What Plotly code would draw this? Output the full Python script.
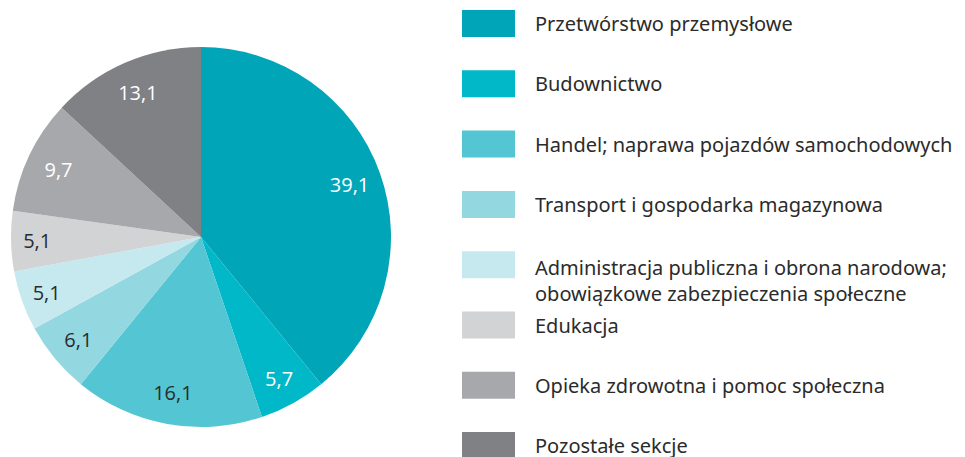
import plotly.graph_objects as go

# sections of the economy and their shares (%)
categories = [
    "Przetwórstwo przemysłowe",
    "Budownictwo",
    "Handel; naprawa pojazdów samochodowych",
    "Transport i gospodarka magazynowa",
    "Administracja publiczna i obrona narodowa;<br>obowiązkowe zabezpieczenia społeczne",
    "Edukacja",
    "Opieka zdrowotna i pomoc społeczna",
    "Pozostałe sekcje",
]
shares = [39.1, 5.7, 16.1, 6.1, 5.1, 5.1, 9.7, 13.1]
colors = ["#00a6b8", "#00b8c8", "#54c5d2", "#93d7e0", "#c6e8ef",
          "#d2d3d5", "#a7a8ab", "#808185"]
label_colors = ["white", "white", "#2b2b2b", "#2b2b2b", "#2b2b2b",
                "#2b2b2b", "white", "white"]

W, H = 965, 457
OFF = 8  # page body margin
FONT = "Noto Sans"

pie_dom = dict(x=[(11 - OFF) / W, (391 - OFF) / W],
               y=[(457 - 427 + OFF) / H, (457 - 47 + OFF) / H])

fig = go.Figure()
# coloured slices
fig.add_trace(go.Pie(
    values=shares,
    labels=categories,
    textinfo="none",
    marker=dict(colors=colors, line=dict(width=0)),
    sort=False,
    direction="clockwise",
    rotation=0,
    hoverinfo="label+percent",
    showlegend=False,
    domain=pie_dom,
))
# transparent ring on top, only to place the value labels near the rim
fig.add_trace(go.Pie(
    values=shares,
    labels=categories,
    text=[f"{v:.1f}".replace(".", ",") for v in shares],
    textinfo="text",
    textposition="inside",
    insidetextorientation="horizontal",
    insidetextfont=dict(family="Open Sans", size=20, color=label_colors),
    marker=dict(colors=["rgba(0,0,0,0)"] * len(shares), line=dict(width=0)),
    hole=0.66,
    sort=False,
    direction="clockwise",
    rotation=0,
    hoverinfo="skip",
    showlegend=False,
    domain=pie_dom,
))

# hand-made legend: wide colour boxes with labels to the right
row_top = 10 - OFF
row_step = 60.3
for i, (name, col) in enumerate(zip(categories, colors)):
    top = row_top + i * row_step
    fig.add_shape(
        type="rect", xref="paper", yref="paper",
        x0=(462 - OFF) / W, x1=(515 - OFF) / W,
        y0=1 - top / H, y1=1 - (top + 27) / H,
        fillcolor=col, line=dict(width=0),
    )
    fig.add_annotation(
        x=(533 - OFF) / W, y=1 - (top + 13.5) / H, xref="paper", yref="paper",
        text=name, showarrow=False, xanchor="left",
        yanchor="top" if "<br>" in name else "middle",
        yshift=13 if "<br>" in name else 0,
        align="left",
        font=dict(family=FONT, size=20, color="#2b2b2b"),
    )

fig.update_layout(
    width=W, height=H,
    margin=dict(l=0, r=0, t=0, b=0),
    paper_bgcolor="white",
    plot_bgcolor="white",
)

fig.write_html("out.html")
